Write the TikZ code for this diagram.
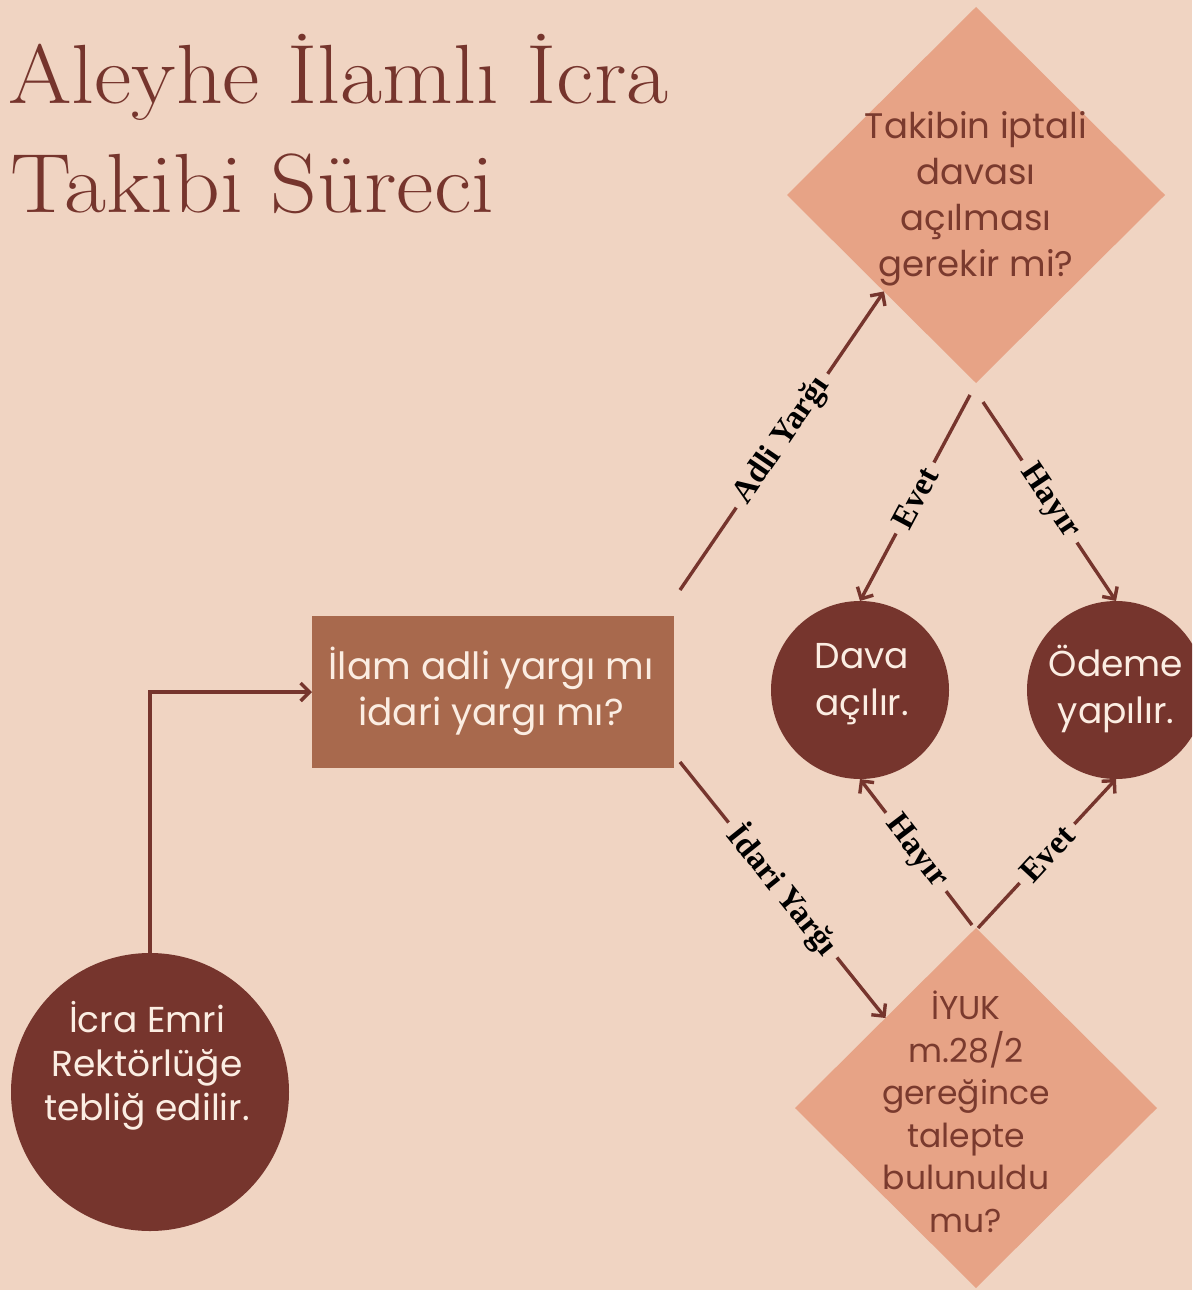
\documentclass[tikz,border=0pt]{standalone}
\usepackage{fontspec}
\newfontfamily\bodyfont{Poppins}
\newfontfamily\labelfont{Liberation Serif}
\usetikzlibrary{shapes.geometric,arrows.meta,calc}
\definecolor{bgc}{HTML}{F0D4C2}
\definecolor{darkbrown}{HTML}{76352D}
\definecolor{diac}{HTML}{E7A386}
\definecolor{rectc}{HTML}{A8694D}
\definecolor{lighttext}{HTML}{FBEDE2}
\definecolor{diatext}{HTML}{7A3A2E}
\tikzset{
  diabox/.style={diamond, inner sep=0pt, outer sep=0pt, fill=diac},
  diatxt/.style={align=center, text=diatext, font=\bodyfont\fontsize{35.5}{46}\selectfont},
  endcircle/.style={circle, inner sep=0pt, outer sep=0pt, fill=darkbrown, minimum size=178pt},
  lighttxt/.style={align=center, text=lighttext, font=\bodyfont\fontsize{34}{45}\selectfont},
  conn/.style={draw=darkbrown, line width=3.4pt, -{Straight Barb[length=9pt,width=18pt]}},
  lab/.style={font=\labelfont\bfseries\fontsize{33}{34}\selectfont, text=black, fill=bgc, inner xsep=8pt, inner ysep=0pt, sloped, midway},
  titletxt/.style={anchor=base west, inner sep=0pt, text=darkbrown, font=\rmfamily\fontsize{84}{96}\selectfont}
}
\begin{document}
\begin{tikzpicture}[x=1pt,y=-1pt]
\useasboundingbox (0,0) rectangle (1192,1290);
\clip (0,0) rectangle (1192,1290);
\fill[bgc] (0,0) rectangle (1192,1290);

% title
\node[titletxt] (title1) at (8,103) {\scalebox{1.09}[1]{Aleyhe İlamlı İcra}};
\node[titletxt] (title2) at (10,212) {\scalebox{1.09}[1]{Takibi Süreci}};

% shapes
\node[diabox, minimum width=378pt, minimum height=376pt] (topdia) at (976,195) {};
\node[diatxt] (topdiatext) at (976,199) {Takibin iptali\\davası\\açılması\\gerekir mi?};

\node[diabox, minimum width=362pt, minimum height=360pt] (botdia) at (976,1108) {};
\node[diatxt, font=\bodyfont\fontsize{33}{42.5}\selectfont] (botdiatext) at (966,1112) {İYUK\\m.28/2\\gereğince\\talepte\\bulunuldu\\mu?};

\node[fill=rectc, minimum width=362pt, minimum height=152pt, inner sep=0pt, outer sep=0pt] (rect) at (493,692) {};
\node[lighttxt, font=\bodyfont\fontsize{37.5}{46}\selectfont] (recttext) at (491,691) {İlam adli yargı mı\\idari yargı mı?};

\node[endcircle, minimum size=278pt] (lc) at (150,1092) {};
\node[lighttxt, font=\bodyfont\fontsize{36}{44}\selectfont] (lctext) at (147,1066) {İcra Emri\\Rektörlüğe\\tebliğ edilir.};

\node[endcircle] (dava) at (860,690) {};
\node[lighttxt, font=\bodyfont\fontsize{36}{47}\selectfont] (davatext) at (862,684) {Dava\\açılır.};

\node[endcircle] (ode) at (1116,690) {};
\node[lighttxt, font=\bodyfont\fontsize{36}{47}\selectfont] (odetext) at (1116,689) {Ödeme\\yapılır.};

% connectors
\draw[conn] (lc.north) |- (rect.west);

\coordinate (adliS) at ($(rect.north east)+(6,-26)$);
\coordinate (adliE) at ($(topdia.west)!0.513!(topdia.south)$);
\draw[conn] (adliS) -- (adliE) node[lab] {Adli Yarğı};

\coordinate (idariS) at ($(rect.south east)+(6,-6)$);
\coordinate (idariE) at ($(botdia.west)!0.5!(botdia.north)$);
\draw[conn] (idariS) -- (idariE) node[lab] {İdari Yarğı};

\coordinate (evetTS) at ($(topdia.south)+(-6,12)$);
\draw[conn] (evetTS) -- (dava.north) node[lab] {Evet};

\coordinate (hayirTS) at ($(topdia.south)+(7,19)$);
\draw[conn] (hayirTS) -- (ode.north) node[lab] {Hayır};

\coordinate (hayirBS) at ($(botdia.north)+(-4,-3)$);
\draw[conn] (hayirBS) -- (dava.south) node[lab] {Hayır};

\coordinate (evetBS) at ($(botdia.north)+(2,0)$);
\draw[conn] (evetBS) -- (ode.south) node[lab] {Evet};
\end{tikzpicture}
\end{document}
